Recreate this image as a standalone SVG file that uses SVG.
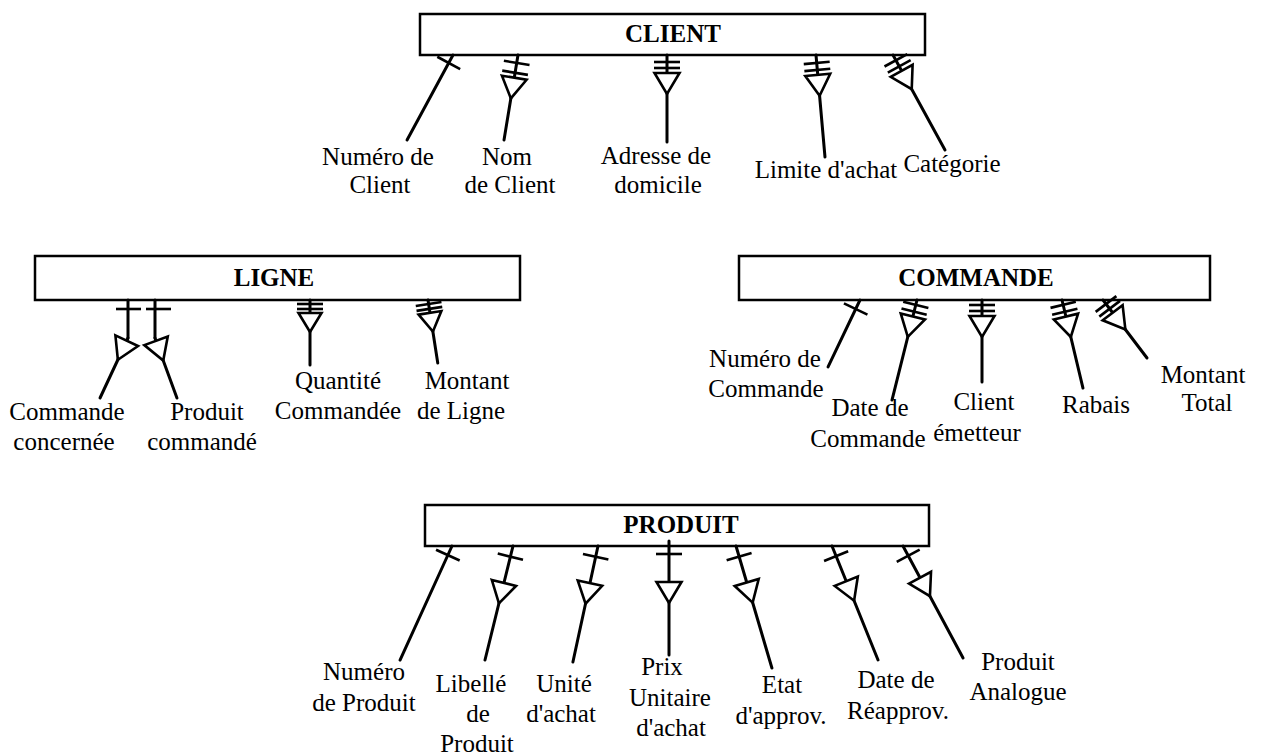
<svg xmlns="http://www.w3.org/2000/svg" xmlns:xlink="http://www.w3.org/1999/xlink" width="1280" height="756" viewBox="0 0 1280 756">
  <style>
    .box { fill: #fff; stroke: #000; stroke-width: 2.5; }
    .title { font-family: "Liberation Serif", "Times New Roman", serif; font-size: 25px; font-weight: bold; text-anchor: middle; fill: #000; }
    .lbl { font-family: "Liberation Serif", "Times New Roman", serif; font-size: 25px; text-anchor: middle; fill: #000; }
    .ln { stroke: #000; stroke-width: 3; fill: none; stroke-linecap: round; stroke-linejoin: round; }
    .tk { stroke: #000; stroke-width: 2.6; fill: none; stroke-linecap: butt; }
    .tri { fill: #fff; stroke: #000; stroke-width: 2.6; stroke-linejoin: miter; }
  </style>
  <defs>
    <!-- cardinality tick, drawn across the connector (local x axis) -->
    <line id="bar" class="tk" x1="-13" y1="0" x2="13" y2="0"/>
    <!-- multi-valued mark: open triangle pointing towards the attribute -->
    <path id="tri" class="tri" d="M-12.5,0 H12.5 L0,21 Z"/>
    <path id="triS" class="tri" d="M-11.5,0 H11.5 L0,19 Z"/>
  </defs>

  <!-- Entities -->
  <g id="client">
    <rect class="box" x="420" y="14" width="505" height="41"/>
    <text class="title" x="673" y="42">CLIENT</text>
  </g>
  <g id="ligne">
    <rect class="box" x="35" y="256" width="485" height="44"/>
    <text class="title" x="274" y="286">LIGNE</text>
  </g>
  <g id="commande">
    <rect class="box" x="739" y="256" width="471" height="44"/>
    <text class="title" x="976" y="286">COMMANDE</text>
  </g>
  <g id="produit">
    <rect class="box" x="425" y="505" width="504" height="41"/>
    <text class="title" x="681" y="533">PRODUIT</text>
  </g>

  <!-- Attribute links: each group is placed at the entity edge and rotated so local +y runs along the link -->
  <g id="connectors">
    <!-- CLIENT -->
    <g transform="translate(453,55) rotate(28.4)">
      <line class="ln" x1="0" y1="0" x2="0" y2="96.6"/>
      <use xlink:href="#bar" y="9"/>
    </g>
    <g transform="translate(518,55) rotate(9.35)">
      <line class="ln" x1="0" y1="0" x2="0" y2="86.1"/>
      <use xlink:href="#bar" y="8"/><use xlink:href="#bar" y="18"/>
      <use xlink:href="#tri" y="23"/>
    </g>
    <g transform="translate(667,55)">
      <line class="ln" x1="0" y1="0" x2="0" y2="87"/>
      <use xlink:href="#bar" y="7"/><use xlink:href="#bar" y="13"/>
      <use xlink:href="#tri" y="18"/>
    </g>
    <g transform="translate(816,55) rotate(-5.04)">
      <line class="ln" x1="0" y1="0" x2="0" y2="102.4"/>
      <use xlink:href="#bar" y="8"/><use xlink:href="#bar" y="15"/>
      <use xlink:href="#tri" y="20"/>
    </g>
    <g transform="translate(893,55) rotate(-28.7)">
      <line class="ln" x1="0" y1="0" x2="0" y2="108.3"/>
      <use xlink:href="#bar" y="6"/><use xlink:href="#bar" y="13"/>
      <use xlink:href="#tri" y="18"/>
    </g>

    <!-- LIGNE -->
    <g>
      <line class="ln" x1="128" y1="300" x2="128" y2="338"/>
      <line class="tk" x1="116" y1="309" x2="141" y2="309"/>
      <g transform="translate(128,338) rotate(25)">
        <line class="ln" x1="0" y1="0" x2="0" y2="66.2"/>
        <use xlink:href="#tri" y="3"/>
      </g>
    </g>
    <g>
      <line class="ln" x1="155" y1="300" x2="155" y2="338"/>
      <line class="tk" x1="146" y1="309" x2="171" y2="309"/>
      <g transform="translate(155,338) rotate(-20.1)">
        <line class="ln" x1="0" y1="0" x2="0" y2="63.9"/>
        <use xlink:href="#tri" y="3"/>
      </g>
    </g>
    <g transform="translate(310,300)">
      <line class="ln" x1="0" y1="0" x2="0" y2="65"/>
      <use xlink:href="#bar" y="4"/><use xlink:href="#bar" y="9"/>
      <use xlink:href="#triS" y="13"/>
    </g>
    <g transform="translate(428,300) rotate(-8.8)">
      <line class="ln" x1="0" y1="0" x2="0" y2="63.8"/>
      <use xlink:href="#bar" y="4"/><use xlink:href="#bar" y="9"/>
      <use xlink:href="#triS" y="13"/>
    </g>

    <!-- COMMANDE -->
    <g transform="translate(860,300) rotate(25.5)">
      <line class="ln" x1="0" y1="0" x2="0" y2="74.2"/>
      <use xlink:href="#bar" y="10"/>
    </g>
    <g transform="translate(917,300) rotate(14.04)">
      <line class="ln" x1="0" y1="0" x2="0" y2="103.1"/>
      <use xlink:href="#bar" y="5"/><use xlink:href="#bar" y="12"/>
      <use xlink:href="#tri" y="17"/>
    </g>
    <g transform="translate(982,300)">
      <line class="ln" x1="0" y1="0" x2="0" y2="82"/>
      <use xlink:href="#bar" y="5"/><use xlink:href="#bar" y="11"/>
      <use xlink:href="#tri" y="16"/>
    </g>
    <g transform="translate(1062,300) rotate(-13.4)">
      <line class="ln" x1="0" y1="0" x2="0" y2="90.5"/>
      <use xlink:href="#bar" y="5"/><use xlink:href="#bar" y="12"/>
      <use xlink:href="#tri" y="17"/>
    </g>
    <g transform="translate(1103,300) rotate(-37.2)">
      <line class="ln" x1="0" y1="0" x2="0" y2="72.8"/>
      <use xlink:href="#bar" y="5"/><use xlink:href="#bar" y="11"/>
      <use xlink:href="#tri" y="16"/>
    </g>

    <!-- PRODUIT -->
    <g transform="translate(452,546) rotate(24.5)">
      <line class="ln" x1="0" y1="0" x2="0" y2="125.3"/>
      <use xlink:href="#bar" y="10"/>
    </g>
    <g transform="translate(513,546) rotate(13.8)">
      <line class="ln" x1="0" y1="0" x2="0" y2="117.4"/>
      <use xlink:href="#bar" y="11"/>
      <use xlink:href="#tri" y="38"/>
    </g>
    <g transform="translate(598,546) rotate(12.2)">
      <line class="ln" x1="0" y1="0" x2="0" y2="118.7"/>
      <use xlink:href="#bar" y="11"/>
      <use xlink:href="#tri" y="38"/>
    </g>
    <g transform="translate(669,546)">
      <line class="ln" x1="0" y1="-5" x2="0" y2="109"/>
      <use xlink:href="#bar" y="8"/>
      <use xlink:href="#tri" y="36"/>
    </g>
    <g transform="translate(736,546) rotate(-16.4)">
      <line class="ln" x1="0" y1="0" x2="0" y2="127.2"/>
      <use xlink:href="#bar" y="11"/>
      <use xlink:href="#tri" y="38"/>
    </g>
    <g transform="translate(832,546) rotate(-22)">
      <line class="ln" x1="0" y1="0" x2="0" y2="122.9"/>
      <use xlink:href="#bar" y="11"/>
      <use xlink:href="#tri" y="38"/>
    </g>
    <g transform="translate(903,546) rotate(-28.2)">
      <line class="ln" x1="0" y1="0" x2="0" y2="127.1"/>
      <use xlink:href="#bar" y="11"/>
      <use xlink:href="#tri" y="36"/>
    </g>
  </g>

  <!-- Attribute names -->
  <g id="client-attributes">
    <text class="lbl" x="378" y="165">Numéro de</text>
    <text class="lbl" x="380" y="193">Client</text>
    <text class="lbl" x="507" y="165">Nom</text>
    <text class="lbl" x="510" y="193">de Client</text>
    <text class="lbl" x="656" y="164">Adresse de</text>
    <text class="lbl" x="658" y="193">domicile</text>
    <text class="lbl" x="826" y="178">Limite d'achat</text>
    <text class="lbl" x="952" y="172">Catégorie</text>
  </g>
  <g id="ligne-attributes">
    <text class="lbl" x="67" y="420">Commande</text>
    <text class="lbl" x="64" y="450">concernée</text>
    <text class="lbl" x="207" y="420">Produit</text>
    <text class="lbl" x="202" y="450">commandé</text>
    <text class="lbl" x="338" y="389">Quantité</text>
    <text class="lbl" x="338" y="419">Commandée</text>
    <text class="lbl" x="467" y="389">Montant</text>
    <text class="lbl" x="461" y="419">de Ligne</text>
  </g>
  <g id="commande-attributes">
    <text class="lbl" x="765" y="367">Numéro de</text>
    <text class="lbl" x="766" y="397">Commande</text>
    <text class="lbl" x="870" y="416">Date de</text>
    <text class="lbl" x="868" y="447">Commande</text>
    <text class="lbl" x="984" y="410">Client</text>
    <text class="lbl" x="977" y="441">émetteur</text>
    <text class="lbl" x="1096" y="413">Rabais</text>
    <text class="lbl" x="1203" y="383">Montant</text>
    <text class="lbl" x="1207" y="411">Total</text>
  </g>
  <g id="produit-attributes">
    <text class="lbl" x="364" y="680">Numéro</text>
    <text class="lbl" x="364" y="711">de Produit</text>
    <text class="lbl" x="471" y="692">Libellé</text>
    <text class="lbl" x="478" y="722">de</text>
    <text class="lbl" x="477" y="752">Produit</text>
    <text class="lbl" x="564" y="692">Unité</text>
    <text class="lbl" x="561" y="722">d'achat</text>
    <text class="lbl" x="662" y="675">Prix</text>
    <text class="lbl" x="670" y="706">Unitaire</text>
    <text class="lbl" x="671" y="736">d'achat</text>
    <text class="lbl" x="782" y="693">Etat</text>
    <text class="lbl" x="781" y="724">d'approv.</text>
    <text class="lbl" x="896" y="688">Date de</text>
    <text class="lbl" x="898" y="719">Réapprov.</text>
    <text class="lbl" x="1018" y="670">Produit</text>
    <text class="lbl" x="1018" y="700">Analogue</text>
  </g>
</svg>
